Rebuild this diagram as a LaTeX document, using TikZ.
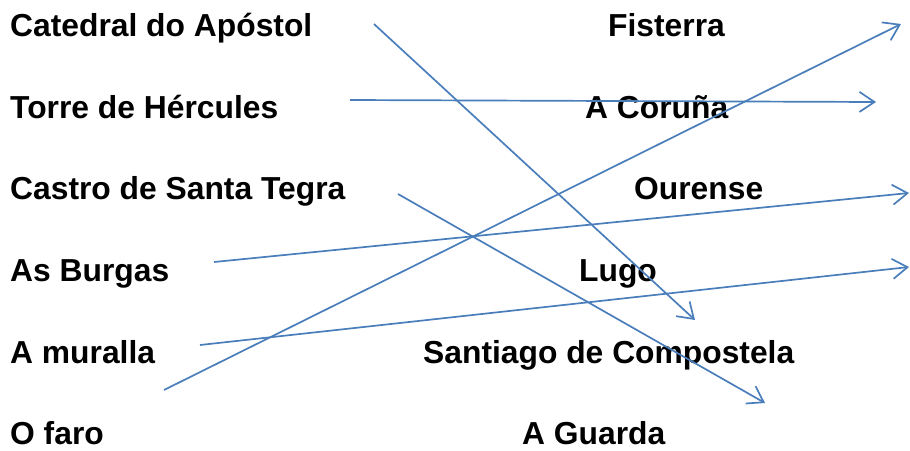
\documentclass[tikz,border=0pt]{standalone}
\usepackage{fontspec}
\setmainfont{Liberation Sans}
\usetikzlibrary{arrows.meta}
\definecolor{ln}{HTML}{4A7EBB}
\begin{document}
\begin{tikzpicture}[x=1pt,y=-1pt,
  lbl/.style={anchor=base west,inner sep=0pt,font=\fontsize{31.8}{38}\selectfont\bfseries},
  conn/.style={draw=ln,line width=1.7pt,-{Straight Barb[length=15pt,width=20pt,line width=1.7pt]}}]
\useasboundingbox (0,0) rectangle (910,450);
\node[lbl] (l1) at (10,36.5) {Catedral do Apóstol};
\node[lbl] (l2) at (10,118) {Torre de Hércules};
\node[lbl] (l3) at (10,199.5) {Castro de Santa Tegra};
\node[lbl] (l4) at (10,281) {As Burgas};
\node[lbl] (l5) at (10,363) {A muralla};
\node[lbl] (l6) at (10,444.5) {O faro};
\node[lbl] (r1) at (608,36.5) {Fisterra};
\node[lbl] (r2) at (585,118) {A Coruña};
\node[lbl] (r3) at (634,199.5) {Ourense};
\node[lbl] (r4) at (579,281) {Lugo};
\node[lbl] (r5) at (423,363) {Santiago de Compostela};
\node[lbl] (r6) at (522,444.5) {A Guarda};
\coordinate (a1) at (374,24);  \coordinate (b1) at (695,320);
\coordinate (a2) at (350,100); \coordinate (b2) at (876,102);
\coordinate (a3) at (398,194); \coordinate (b3) at (765,403);
\coordinate (a4) at (214,262); \coordinate (b4) at (909,193);
\coordinate (a5) at (200,345); \coordinate (b5) at (909,267);
\coordinate (a6) at (164,390); \coordinate (b6) at (901,24);
\draw[conn] (a1) -- (b1);
\draw[conn] (a2) -- (b2);
\draw[conn] (a3) -- (b3);
\draw[conn] (a4) -- (b4);
\draw[conn] (a5) -- (b5);
\draw[conn] (a6) -- (b6);
\end{tikzpicture}
\end{document}
